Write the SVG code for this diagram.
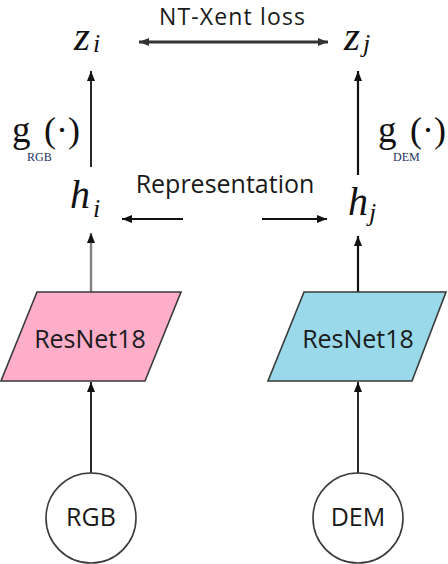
<svg xmlns="http://www.w3.org/2000/svg" width="448" height="564" viewBox="0 0 448 564">
<style>
.lbl{font-family:"Open Sans","Noto Sans",sans-serif;font-size:25px;fill:#1a1a1a}
.math{font-family:"Liberation Serif","Times New Roman",serif;font-style:italic;fill:#111}
.fn{font-family:"Liberation Serif","Times New Roman",serif;fill:#111}
.sub{font-family:"Liberation Serif","Times New Roman",serif;font-size:12px;fill:#23345e}
.conn{stroke:#111;stroke-width:1.8;fill:none}
.node{stroke:#3a3a3a;stroke-width:1.6}
</style>
<defs>
<marker id="ah" viewBox="0 0 10 8" refX="10" refY="4" markerWidth="10" markerHeight="8" markerUnits="userSpaceOnUse" orient="auto">
<path d="M0,0 L10,4 L0,8 Z" fill="#111"/>
</marker>
<marker id="ahs" viewBox="0 0 10 8" refX="10" refY="4" markerWidth="10" markerHeight="8" markerUnits="userSpaceOnUse" orient="auto-start-reverse">
<path d="M0,0 L10,4 L0,8 Z" fill="#333"/>
</marker>
</defs>
<rect width="448" height="564" fill="#fff"/>

<g id="connectors">
<line x1="91" y1="474" x2="91" y2="382" class="conn" marker-end="url(#ah)"/>
<line x1="358" y1="474" x2="358" y2="382" class="conn" marker-end="url(#ah)"/>
<line x1="91" y1="292" x2="91" y2="233" class="conn" style="stroke:#808080;stroke-width:2.4" marker-end="url(#ah)"/>
<line x1="358" y1="292" x2="358" y2="236" class="conn" style="stroke-width:2.2" marker-end="url(#ah)"/>
<line x1="91" y1="167" x2="91" y2="71" class="conn" marker-end="url(#ah)"/>
<line x1="358" y1="175" x2="358" y2="71" class="conn" style="stroke-width:2.2" marker-end="url(#ah)"/>
<line x1="183" y1="219" x2="122" y2="219" class="conn" marker-end="url(#ah)"/>
<line x1="262" y1="219" x2="327" y2="219" class="conn" marker-end="url(#ah)"/>
<line x1="139" y1="42" x2="328" y2="42" style="stroke:#333;stroke-width:2.8" marker-start="url(#ahs)" marker-end="url(#ahs)"/>
</g>

<g id="rgb">
<circle cx="91" cy="518" r="45" fill="#fff" class="node"/>
<text x="91" y="526" class="lbl" text-anchor="middle">RGB</text>
</g>
<g id="dem">
<circle cx="358" cy="518" r="45" fill="#fff" class="node"/>
<text x="358" y="526" class="lbl" text-anchor="middle">DEM</text>
</g>

<g id="resnet-rgb">
<polygon points="37,292 181,292 145,381 1,381" fill="#FFAEC9" class="node"/>
<text x="90" y="348" class="lbl" text-anchor="middle">ResNet18</text>
</g>
<g id="resnet-dem">
<polygon points="304,292 446,292 412,381 268,381" fill="#99D9EA" class="node"/>
<text x="358" y="348" class="lbl" text-anchor="middle">ResNet18</text>
</g>

<g id="hi">
<text x="70" y="208" class="math" font-size="40">h</text>
<text x="93" y="217" class="math" font-size="26">i</text>
</g>
<g id="hj">
<text x="348" y="215" class="math" font-size="40">h</text>
<text x="369" y="221" class="math" font-size="26">j</text>
</g>
<g id="zi">
<text x="74" y="50" class="math" font-size="41">z</text>
<text x="93" y="52" class="math" font-size="26">i</text>
</g>
<g id="zj">
<text x="344" y="50" class="math" font-size="41">z</text>
<text x="363" y="52" class="math" font-size="26">j</text>
</g>

<g id="g-rgb">
<text x="12" y="142" class="fn" font-size="37">g</text>
<text x="44" y="142" class="fn" font-size="36">(·)</text>
<text x="27" y="161" class="sub">RGB</text>
</g>
<g id="g-dem">
<text x="378" y="142" class="fn" font-size="37">g</text>
<text x="410" y="142" class="fn" font-size="36">(·)</text>
<text x="393" y="161" class="sub">DEM</text>
</g>

<g id="labels">
<text x="232" y="25" class="lbl" text-anchor="middle" style="font-size:23px" textLength="146" lengthAdjust="spacing">NT-Xent loss</text>
<text x="225" y="193" class="lbl" text-anchor="middle">Representation</text>
</g>
</svg>
